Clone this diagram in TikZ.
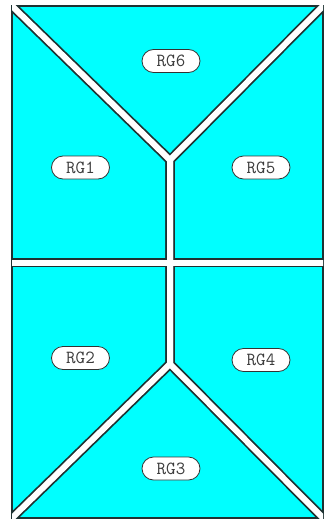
\documentclass[tikz,border=0pt]{standalone}
\usetikzlibrary{calc}
\definecolor{regfill}{RGB}{0,255,255}
\definecolor{edge}{RGB}{30,50,50}
\definecolor{labtext}{RGB}{60,60,60}
\begin{document}
\begin{tikzpicture}[x=1pt,y=-1pt,
  gapdark/.style={draw=edge,line width=9.5pt,line join=miter},
  gapwhite/.style={draw=white,line width=6pt,line join=miter},
  lab/.style={draw=black!80,fill=white,line width=0.8pt,rounded corners=11.5pt,
    minimum width=58pt,minimum height=23pt,inner sep=0pt,
    font=\ttfamily\fontsize{18.5}{18.5}\selectfont,text=labtext}]
\useasboundingbox (0,0) rectangle (325,519);
\fill[white] (0,0) rectangle (325,519);
% outer area
\filldraw[fill=regfill,draw=edge,line width=1.6pt] (12,6) rectangle (323,518);
% corner and junction coordinates
\coordinate (A) at (12,6);
\coordinate (B) at (323,6);
\coordinate (C) at (12,518);
\coordinate (D) at (323,518);
\coordinate (P) at (170,160);
\coordinate (Q) at (170,364);
\coordinate (HL) at (12,262.5);
\coordinate (HR) at (323,262.5);
\begin{scope}
\clip (12,6) rectangle (323,518);
\draw[gapdark] ($(A)!-10pt!(P)$) -- (P) -- (Q) -- ($(C)!-10pt!(Q)$);
\draw[gapdark] ($(B)!-10pt!(P)$) -- (P) -- (Q) -- ($(D)!-10pt!(Q)$);
\draw[gapdark] ($(HL)+(-10,0)$) -- ($(HR)+(10,0)$);
\draw[gapwhite] ($(A)!-10pt!(P)$) -- (P) -- (Q) -- ($(C)!-10pt!(Q)$);
\draw[gapwhite] ($(B)!-10pt!(P)$) -- (P) -- (Q) -- ($(D)!-10pt!(Q)$);
\draw[gapwhite] ($(HL)+(-10,0)$) -- ($(HR)+(10,0)$);
\end{scope}
\node[lab] (rg6) at (171,61) {RG6};
\node[lab] (rg1) at (80.5,167.5) {RG1};
\node[lab] (rg5) at (261,167.5) {RG5};
\node[lab] (rg2) at (80.5,358) {RG2};
\node[lab] (rg4) at (261,360) {RG4};
\node[lab] (rg3) at (171,468.5) {RG3};
\end{tikzpicture}
\end{document}
